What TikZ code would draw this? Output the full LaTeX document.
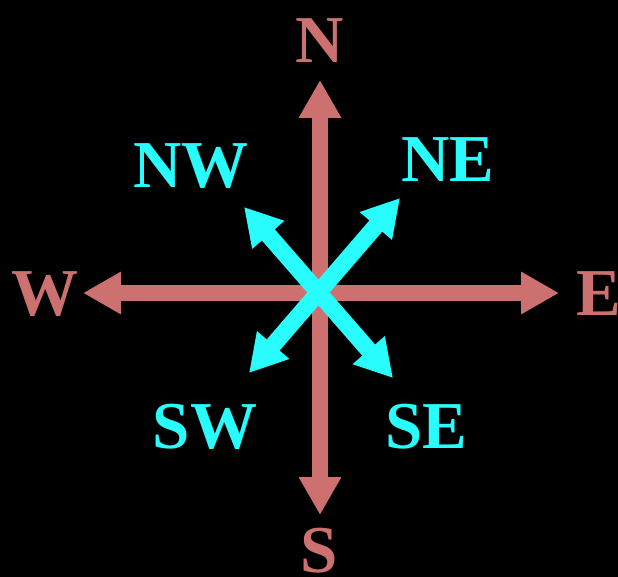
\documentclass[tikz,border=0pt]{standalone}
\usepackage{fontspec}
\setmainfont{Liberation Serif}
\usetikzlibrary{arrows.meta}
\definecolor{rose}{RGB}{204,112,112}
\definecolor{aqua}{RGB}{40,252,252}
\begin{document}
\begin{tikzpicture}[x=1pt,y=-1pt,
  lbl/.style={anchor=base,inner sep=0pt,font=\fontsize{67}{67}\selectfont\bfseries},
  mainarrow/.style={draw=rose,line width=15.5pt,{Triangle[length=38pt,width=40pt]}-{Triangle[length=38pt,width=40pt]}},
  diagarrow/.style={draw=aqua,line width=17pt,{Triangle[length=37pt,width=40pt]}-{Triangle[length=37pt,width=40pt]}}]
\fill[black] (0,0) rectangle (618,577);
\useasboundingbox (0,0) rectangle (618,577);
% arrow end points
\coordinate (n) at (320,80);
\coordinate (s) at (320,515);
\coordinate (w) at (83,293);
\coordinate (e) at (559,293);
\coordinate (nw) at (244,207);
\coordinate (se) at (393,378);
\coordinate (ne) at (400,198);
\coordinate (sw) at (249,373);
% arrows
\draw[mainarrow] (n) -- (s);
\draw[mainarrow] (w) -- (e);
\draw[diagarrow] (nw) -- (se);
\draw[diagarrow] (ne) -- (sw);
% labels
\node[lbl,text=rose] (lN) at (320,63) {N};
\node[lbl,text=rose] (lS) at (319,572) {S};
\node[lbl,text=rose] (lW) at (45,315) {W};
\node[lbl,text=rose,anchor=base west] (lE) at (576,315) {E};
\node[lbl,text=aqua] (lNW) at (191,188) {NW};
\node[lbl,text=aqua] (lNE) at (448,182) {NE};
\node[lbl,text=aqua] (lSW) at (205,448) {SW};
\node[lbl,text=aqua] (lSE) at (426,448) {SE};
\end{tikzpicture}
\end{document}
